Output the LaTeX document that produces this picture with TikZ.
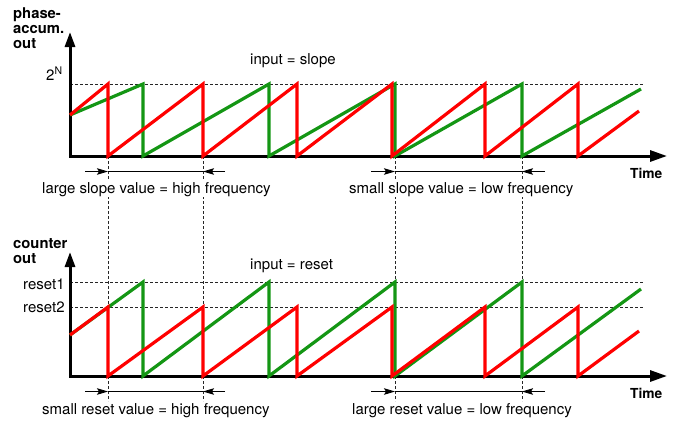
\documentclass[tikz,border=0pt]{standalone}
\usepackage{fontspec}
\setmainfont{TeX Gyre Heros}
\usetikzlibrary{arrows.meta}
\definecolor{sred}{RGB}{255,0,0}
\definecolor{sgreen}{RGB}{20,150,20}
\begin{document}
\begin{tikzpicture}[x=1pt,y=-1pt,
  axisline/.style={line width=3pt,{Triangle[length=15pt,width=10pt]}-{Triangle[length=17pt,width=11pt]}},
  guide/.style={line width=0.7pt,black!85,dash pattern=on 3pt off 2pt},
  dimline/.style={line width=0.9pt},
  dimarrow/.style={line width=0.9pt,-{Stealth[length=11pt,width=6.5pt,inset=2pt]}},
  wave/.style={line width=3.2pt,line join=miter},
  lbl/.style={font=\fontsize{15}{17}\selectfont,inner xsep=0pt,inner ysep=1pt,anchor=base west},
  wlbl/.style={lbl,fill=white},
  blbl/.style={font=\fontsize{14.8}{17}\selectfont\bfseries,inner sep=0pt,anchor=base west},
]
\useasboundingbox (0,0) rectangle (676,424);

% ---------- guides ----------
\foreach \gx in {108,203,395,522}{\draw[guide] (\gx,156) -- (\gx,401);}
\draw[guide] (70,84) -- (643,84);
\draw[guide] (70,282) -- (643,282);
\draw[guide] (70,307) -- (643,307);

% ---------- axes ----------
\draw[axisline] (70,32) -- (70,156) -- (667,156);
\draw[axisline] (70,252) -- (70,376) -- (667,376);

% ---------- top waves ----------
\draw[wave,sgreen] (70,115)--(143,84)--(143,156)--(269,84)--(269,156)--(395,84)--(395,156)--(522,84)--(522,156)--(641,89);
\draw[wave,sred] (70,115)--(108,84)--(108,156)--(203,84)--(203,156)--(297,84)--(297,156)--(392,84)--(392,156)--(485,84)--(485,156)--(578,84)--(578,156)--(639,111);

% ---------- bottom waves ----------
\draw[wave,sgreen] (70,335)--(143,282)--(143,376)--(269,282)--(269,376)--(395,282)--(395,376)--(522,282)--(522,376)--(641,289);
\draw[wave,sred] (70,335)--(108,307)--(108,376)--(203,307)--(203,376)--(297,307)--(297,376)--(392,307)--(392,376)--(485,307)--(485,376)--(578,307)--(578,376)--(639,331);

% ---------- dimension markers ----------
\foreach \dy in {171.5,391.5}{
  \coordinate (la) at (85,\dy);  \coordinate (lb) at (108,\dy);
  \coordinate (lc) at (203,\dy); \coordinate (ld) at (225,\dy);
  \coordinate (ra) at (371,\dy); \coordinate (rb) at (395,\dy);
  \coordinate (rc) at (522,\dy); \coordinate (rd) at (545,\dy);
  \draw[dimline] (lb) -- (lc);
  \draw[dimarrow] (la) -- (lb);
  \draw[dimarrow] (ld) -- (lc);
  \draw[dimline] (rb) -- (rc);
  \draw[dimarrow] (ra) -- (rb);
  \draw[dimarrow] (rd) -- (rc);
}

% ---------- labels ----------
\node[blbl] (t1) at (13,18) {phase-};
\node[blbl] (t2) at (13,33) {accum.};
\node[blbl] (t3) at (13,48) {out};
\node[lbl] (twoN) at (46,80) {2\textsuperscript{N}};
\node[lbl] (inslope) at (250,64) {input = slope};
\node[wlbl] (hs) at (42,193) {large slope value = high frequency};
\node[wlbl] (ls) at (349,193) {small slope value = low frequency};
\node[blbl,font=\fontsize{13.8}{16}\selectfont\bfseries] (time1) at (630,178) {Time};

\node[blbl] (c1) at (13,248) {counter};
\node[blbl] (c2) at (13,263) {out};
\node[lbl] (r1) at (23,289) {reset1};
\node[lbl] (r2) at (23,312) {reset2};
\node[lbl] (inreset) at (250,269) {input = reset};
\node[wlbl] (hr) at (42,414) {small reset value = high frequency};
\node[wlbl] (lr) at (352,414) {large reset value = low frequency};
\node[blbl,font=\fontsize{13.8}{16}\selectfont\bfseries] (time2) at (630,398) {Time};
\end{tikzpicture}
\end{document}
